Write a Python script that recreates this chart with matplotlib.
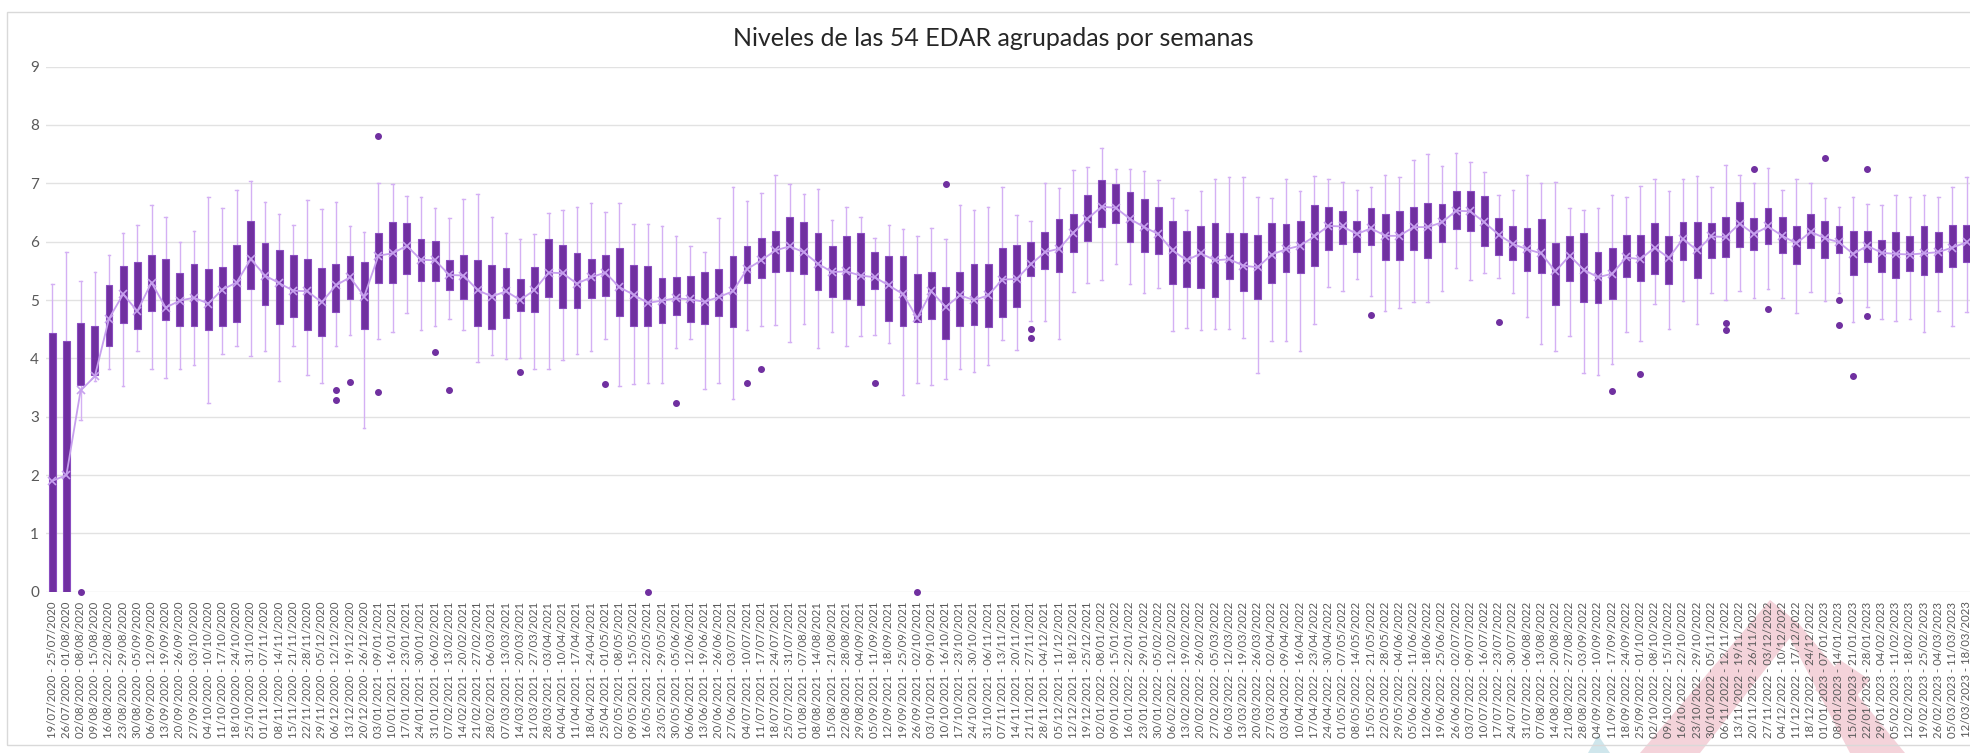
import pandas as pd
import matplotlib
matplotlib.use("Agg")
import matplotlib.pyplot as plt
from matplotlib.patches import Rectangle, Polygon
from matplotlib.lines import Line2D

plt.rcParams['font.family'] = ['Lato', 'DejaVu Sans']

titulo = "Niveles de las 54 EDAR agrupadas por semanas"

# semanas (faltan las de Navidad)
semanas = pd.date_range("2020-07-19", "2023-03-12", freq="7D")
sin_datos = pd.to_datetime(["2020-12-27", "2021-12-26", "2022-12-25"])
semanas = semanas[~semanas.isin(sin_datos)]
etiquetas = ["{} - {}".format(d.strftime("%d/%m/%Y"), (d + pd.Timedelta(days=6)).strftime("%d/%m/%Y")) for d in semanas]

# bigote inferior
bigote_min = [0, 0, 2.95, 3.62, 3.81, 3.52, 4.12, 3.81, 3.66, 3.81,
              3.89, 3.23, 4.08, 4.21, 4.04, 4.12, 3.61, 4.21, 3.71, 3.58,
              4.22, 4.40, 2.80, 4.34, 4.45, 4.77, 4.49, 4.56, 4.68, 4.49,
              3.94, 4.05, 3.99, 4.00, 3.81, 3.81, 3.97, 4.08, 4.12, 4.34,
              3.53, 3.56, 3.58, 3.57, 4.18, 4.34, 3.47, 3.57, 3.31, 4.48,
              4.56, 4.58, 4.28, 4.59, 4.18, 4.45, 4.21, 4.39, 4.40, 4.26,
              3.37, 3.58, 3.55, 3.65, 3.81, 3.77, 3.88, 4.31, 4.15, 4.64,
              4.64, 4.33, 5.13, 5.30, 5.35, 5.61, 5.28, 5.12, 5.21, 4.47,
              4.52, 4.49, 4.50, 4.51, 4.35, 3.75, 4.29, 4.29, 4.12, 4.59,
              5.22, 5.15, 5.36, 5.07, 4.82, 4.87, 4.97, 4.97, 5.16, 5.55,
              5.35, 5.46, 5.37, 5.12, 4.71, 4.25, 4.13, 4.39, 3.75, 3.71,
              3.91, 4.45, 4.30, 4.93, 4.50, 4.98, 4.59, 5.12, 5.00, 5.16,
              5.04, 5.19, 5.04, 4.78, 5.13, 4.99, 5.12, 4.63, 4.88, 4.68,
              4.64, 4.68, 4.46, 4.82, 4.55, 4.79]
# primer cuartil
q1 = [0, 0, 3.55, 3.71, 4.22, 4.61, 4.50, 4.82, 4.65, 4.56,
      4.55, 4.48, 4.56, 4.62, 5.19, 4.91, 4.59, 4.71, 4.49, 4.38,
      4.79, 5.01, 4.51, 5.30, 5.29, 5.44, 5.33, 5.32, 5.17, 5.02,
      4.55, 4.50, 4.69, 4.82, 4.79, 5.05, 4.86, 4.86, 5.04, 5.07,
      4.72, 4.56, 4.56, 4.61, 4.75, 4.62, 4.59, 4.72, 4.54, 5.30,
      5.37, 5.48, 5.49, 5.45, 5.17, 5.05, 5.01, 4.91, 5.19, 4.64,
      4.56, 4.62, 4.67, 4.33, 4.55, 4.58, 4.53, 4.71, 4.88, 5.41,
      5.53, 5.48, 5.83, 6.01, 6.25, 6.32, 6.00, 5.83, 5.79, 5.28,
      5.22, 5.20, 5.05, 5.36, 5.16, 5.02, 5.29, 5.48, 5.46, 5.59,
      5.86, 5.96, 5.82, 5.94, 5.69, 5.69, 5.86, 5.72, 6.00, 6.21,
      6.18, 5.93, 5.78, 5.68, 5.49, 5.47, 4.91, 5.33, 4.97, 4.95,
      5.02, 5.40, 5.33, 5.45, 5.28, 5.69, 5.38, 5.72, 5.73, 5.91,
      5.86, 5.96, 5.81, 5.62, 5.89, 5.72, 5.80, 5.43, 5.65, 5.48,
      5.37, 5.49, 5.43, 5.48, 5.56, 5.65]
# mediana
mediana = [1.95, 2.05, 4.14, 4.14, 4.72, 5.15, 5.12, 5.38, 5.17, 4.95,
           5.05, 4.71, 5.25, 5.42, 5.87, 5.40, 5.50, 5.20, 5.10, 4.95,
           5.36, 5.45, 5.10, 5.82, 5.85, 5.95, 5.70, 5.70, 5.36, 5.26,
           5.15, 4.99, 5.25, 5.00, 5.15, 5.49, 5.50, 5.33, 5.40, 5.50,
           5.22, 5.10, 4.97, 5.00, 5.05, 5.09, 5.03, 5.05, 5.15, 5.59,
           5.76, 5.89, 5.96, 5.83, 5.65, 5.48, 5.59, 5.29, 5.40, 5.31,
           5.16, 5.12, 5.15, 4.88, 5.12, 5.00, 5.05, 5.35, 5.36, 5.64,
           5.82, 5.90, 6.15, 6.40, 6.60, 6.60, 6.40, 6.16, 6.15, 5.85,
           5.65, 5.96, 5.70, 5.70, 5.55, 5.55, 5.80, 5.90, 5.95, 6.23,
           6.33, 6.25, 6.13, 6.36, 6.10, 6.10, 6.25, 6.25, 6.44, 6.55,
           6.50, 6.42, 6.10, 5.95, 5.87, 5.80, 5.61, 5.82, 5.66, 5.45,
           5.45, 5.77, 5.75, 5.92, 5.75, 6.05, 5.85, 6.12, 6.08, 6.35,
           6.10, 6.30, 6.10, 5.97, 6.30, 6.15, 6.07, 5.80, 5.93, 5.82,
           5.80, 5.80, 5.80, 5.82, 5.90, 6.00]
# tercer cuartil
q3 = [4.43, 4.30, 4.60, 4.56, 5.25, 5.59, 5.65, 5.78, 5.71, 5.46,
      5.62, 5.54, 5.57, 5.94, 6.35, 5.97, 5.85, 5.78, 5.70, 5.55,
      5.62, 5.76, 5.65, 6.15, 6.34, 6.32, 6.05, 6.01, 5.69, 5.77,
      5.68, 5.60, 5.55, 5.36, 5.57, 6.04, 5.94, 5.80, 5.70, 5.78,
      5.90, 5.60, 5.58, 5.38, 5.40, 5.42, 5.48, 5.53, 5.76, 5.92,
      6.07, 6.18, 6.42, 6.33, 6.15, 5.92, 6.09, 6.14, 5.82, 5.76,
      5.76, 5.45, 5.48, 5.23, 5.48, 5.61, 5.62, 5.90, 5.94, 6.00,
      6.17, 6.38, 6.48, 6.80, 7.05, 6.98, 6.85, 6.73, 6.60, 6.36,
      6.19, 6.26, 6.32, 6.14, 6.14, 6.12, 6.32, 6.30, 6.36, 6.63,
      6.60, 6.52, 6.35, 6.58, 6.47, 6.53, 6.60, 6.67, 6.64, 6.87,
      6.87, 6.79, 6.40, 6.27, 6.23, 6.39, 5.98, 6.10, 6.15, 5.82,
      5.90, 6.12, 6.12, 6.32, 6.09, 6.34, 6.33, 6.32, 6.43, 6.68,
      6.40, 6.57, 6.42, 6.26, 6.47, 6.36, 6.27, 6.18, 6.19, 6.03,
      6.16, 6.10, 6.27, 6.16, 6.28, 6.28]
# bigote superior
bigote_max = [5.28, 5.83, 5.32, 5.48, 5.77, 6.14, 6.29, 6.63, 6.43, 6.00,
              6.18, 6.77, 6.57, 6.88, 7.04, 6.68, 6.47, 6.29, 6.71, 6.56,
              6.68, 6.26, 6.16, 7.01, 6.98, 6.79, 6.76, 6.57, 6.40, 6.73,
              6.81, 6.42, 6.14, 6.05, 6.13, 6.49, 6.54, 6.60, 6.67, 6.50,
              6.66, 6.31, 6.31, 6.26, 6.10, 5.92, 5.83, 6.40, 6.94, 6.70,
              6.84, 7.15, 6.98, 6.81, 6.90, 6.37, 6.59, 6.43, 6.06, 6.29,
              6.21, 6.10, 6.23, 6.05, 6.63, 6.55, 6.59, 6.93, 6.46, 6.35,
              7.01, 6.92, 7.23, 7.28, 7.60, 7.24, 7.24, 7.21, 7.05, 6.74,
              6.55, 6.87, 7.07, 7.10, 7.10, 6.77, 6.74, 7.08, 6.87, 7.13,
              7.08, 7.03, 6.88, 6.94, 7.15, 7.10, 7.40, 7.50, 7.30, 7.52,
              7.36, 7.20, 6.80, 6.88, 7.14, 7.00, 7.03, 6.58, 6.55, 6.57,
              6.80, 6.76, 6.95, 7.08, 6.87, 7.08, 7.13, 6.93, 7.31, 7.15,
              7.00, 7.26, 6.88, 7.07, 7.00, 6.74, 6.59, 6.77, 6.64, 6.62,
              6.80, 6.77, 6.80, 6.77, 6.93, 7.11]
# media
media = [1.90, 2.00, 3.45, 3.69, 4.68, 5.10, 4.81, 5.30, 4.87, 4.99,
         5.04, 4.94, 5.18, 5.30, 5.70, 5.42, 5.29, 5.16, 5.15, 4.96,
         5.25, 5.39, 5.06, 5.76, 5.80, 5.93, 5.69, 5.68, 5.43, 5.42,
         5.17, 5.06, 5.15, 5.00, 5.17, 5.47, 5.46, 5.28, 5.39, 5.47,
         5.22, 5.09, 4.95, 4.99, 5.03, 5.01, 4.97, 5.05, 5.15, 5.53,
         5.68, 5.85, 5.92, 5.82, 5.62, 5.48, 5.49, 5.42, 5.39, 5.25,
         5.10, 4.69, 5.15, 4.88, 5.08, 5.00, 5.08, 5.35, 5.36, 5.61,
         5.82, 5.88, 6.15, 6.39, 6.60, 6.58, 6.39, 6.25, 6.13, 5.85,
         5.68, 5.80, 5.68, 5.70, 5.59, 5.56, 5.78, 5.87, 5.93, 6.09,
         6.27, 6.26, 6.13, 6.23, 6.10, 6.10, 6.25, 6.25, 6.33, 6.53,
         6.52, 6.33, 6.12, 5.96, 5.87, 5.80, 5.49, 5.76, 5.52, 5.39,
         5.45, 5.73, 5.70, 5.90, 5.72, 6.05, 5.85, 6.09, 6.08, 6.31,
         6.13, 6.26, 6.10, 5.97, 6.17, 6.06, 5.99, 5.79, 5.93, 5.81,
         5.79, 5.78, 5.80, 5.82, 5.90, 5.99]
# valores atipicos por semana
atipicos = {2: [0.0], 20: [3.45, 3.29], 21: [3.60], 23: [7.81, 3.42], 27: [4.11],
            28: [3.45], 33: [3.76], 39: [3.56], 42: [0.0], 44: [3.24], 49: [3.58],
            50: [3.81], 58: [3.58], 61: [0.0], 63: [6.98], 69: [4.51, 4.35],
            93: [4.75], 102: [4.63], 110: [3.44], 112: [3.73], 118: [4.61, 4.49],
            120: [7.24], 121: [4.85], 125: [7.44], 126: [5.00, 4.58], 127: [3.69],
            128: [7.24, 4.72]}

morado = "#7030A0"
lila = "#D4B0F4"
lila_media = "#C7A0EE"

stats = []
for i in range(len(etiquetas)):
    stats.append({"whislo": bigote_min[i], "q1": q1[i], "med": mediana[i], "q3": q3[i],
                  "whishi": bigote_max[i], "mean": media[i], "fliers": atipicos.get(i, [])})
pos = list(range(len(etiquetas)))

fig = plt.figure(figsize=(19.7, 7.53), dpi=100)

# marca de agua del fondo (abajo a la derecha)
W, H = 1970.0, 753.0
def px(x, y):
    return (x / W, 1 - y / H)
rosa = "#F4D3DA"
fig.add_artist(Polygon([px(1640, 753), px(1700, 753), px(1800, 625), px(1770, 600)],
                       closed=True, transform=fig.transFigure, facecolor=rosa, edgecolor="none", zorder=-1))
fig.add_artist(Polygon([px(1770, 600), px(1800, 625), px(1905, 753), px(1850, 753)],
                       closed=True, transform=fig.transFigure, facecolor=rosa, edgecolor="none", zorder=-1))
fig.add_artist(Polygon([px(1815, 690), px(1840, 660), px(1870, 680), px(1845, 710)],
                       closed=True, transform=fig.transFigure, facecolor=rosa, edgecolor="none", zorder=-1))
fig.add_artist(Polygon([px(1588, 753), px(1598, 735), px(1610, 753)],
                       closed=True, transform=fig.transFigure, facecolor="#CFE6EC", edgecolor="none", zorder=-1))

ax = fig.add_axes([46 / 1970, (753 - 591.8) / 753, (1973.7 - 46) / 1970, (591.8 - 66.6) / 753])
ax.patch.set_alpha(0)

bp = ax.bxp(stats, positions=pos, widths=0.48, patch_artist=True, showmeans=False,
            showfliers=True, manage_ticks=False, capwidths=0.18,
            boxprops=dict(facecolor=morado, edgecolor="#8A4CC0", linewidth=0.8),
            medianprops=dict(color="#B88AE6", linewidth=1),
            whiskerprops=dict(color=lila, linewidth=1),
            capprops=dict(color=lila, linewidth=1),
            flierprops=dict(marker="o", markersize=4, markerfacecolor=morado, markeredgecolor=morado))
for f in bp["fliers"]:
    f.set_clip_on(False)
for b in bp["boxes"]:
    b.set_zorder(3)

ax.plot(pos, media, color=lila_media, lw=1.3, marker="x", ms=6, mew=1.2, zorder=4)

ax.set_xlim(-0.44, 135.5)
ax.set_ylim(0, 9)
ax.set_yticks(range(10))
ax.yaxis.grid(True, color="#E2E2E2", lw=1)
ax.set_axisbelow(True)
for s in ax.spines.values():
    s.set_visible(False)
ax.tick_params(axis="y", length=0, labelsize=11, labelcolor="#595959", pad=5)
ax.set_xticks(pos)
ax.set_xticklabels(etiquetas, rotation=90, fontsize=8.2, color="#595959")
ax.tick_params(axis="x", length=0, pad=7)

fig.text(993 / 1970, 1 - 38 / 753, titulo, ha="center", va="center", fontsize=18, color="#262626")
fig.add_artist(Rectangle((7 / 1970, 1 - 745 / 753), 2, (745 - 12) / 753, transform=fig.transFigure,
                         fill=False, edgecolor="#D9D9D9", linewidth=1))

fig.savefig("out.png", dpi=100)
